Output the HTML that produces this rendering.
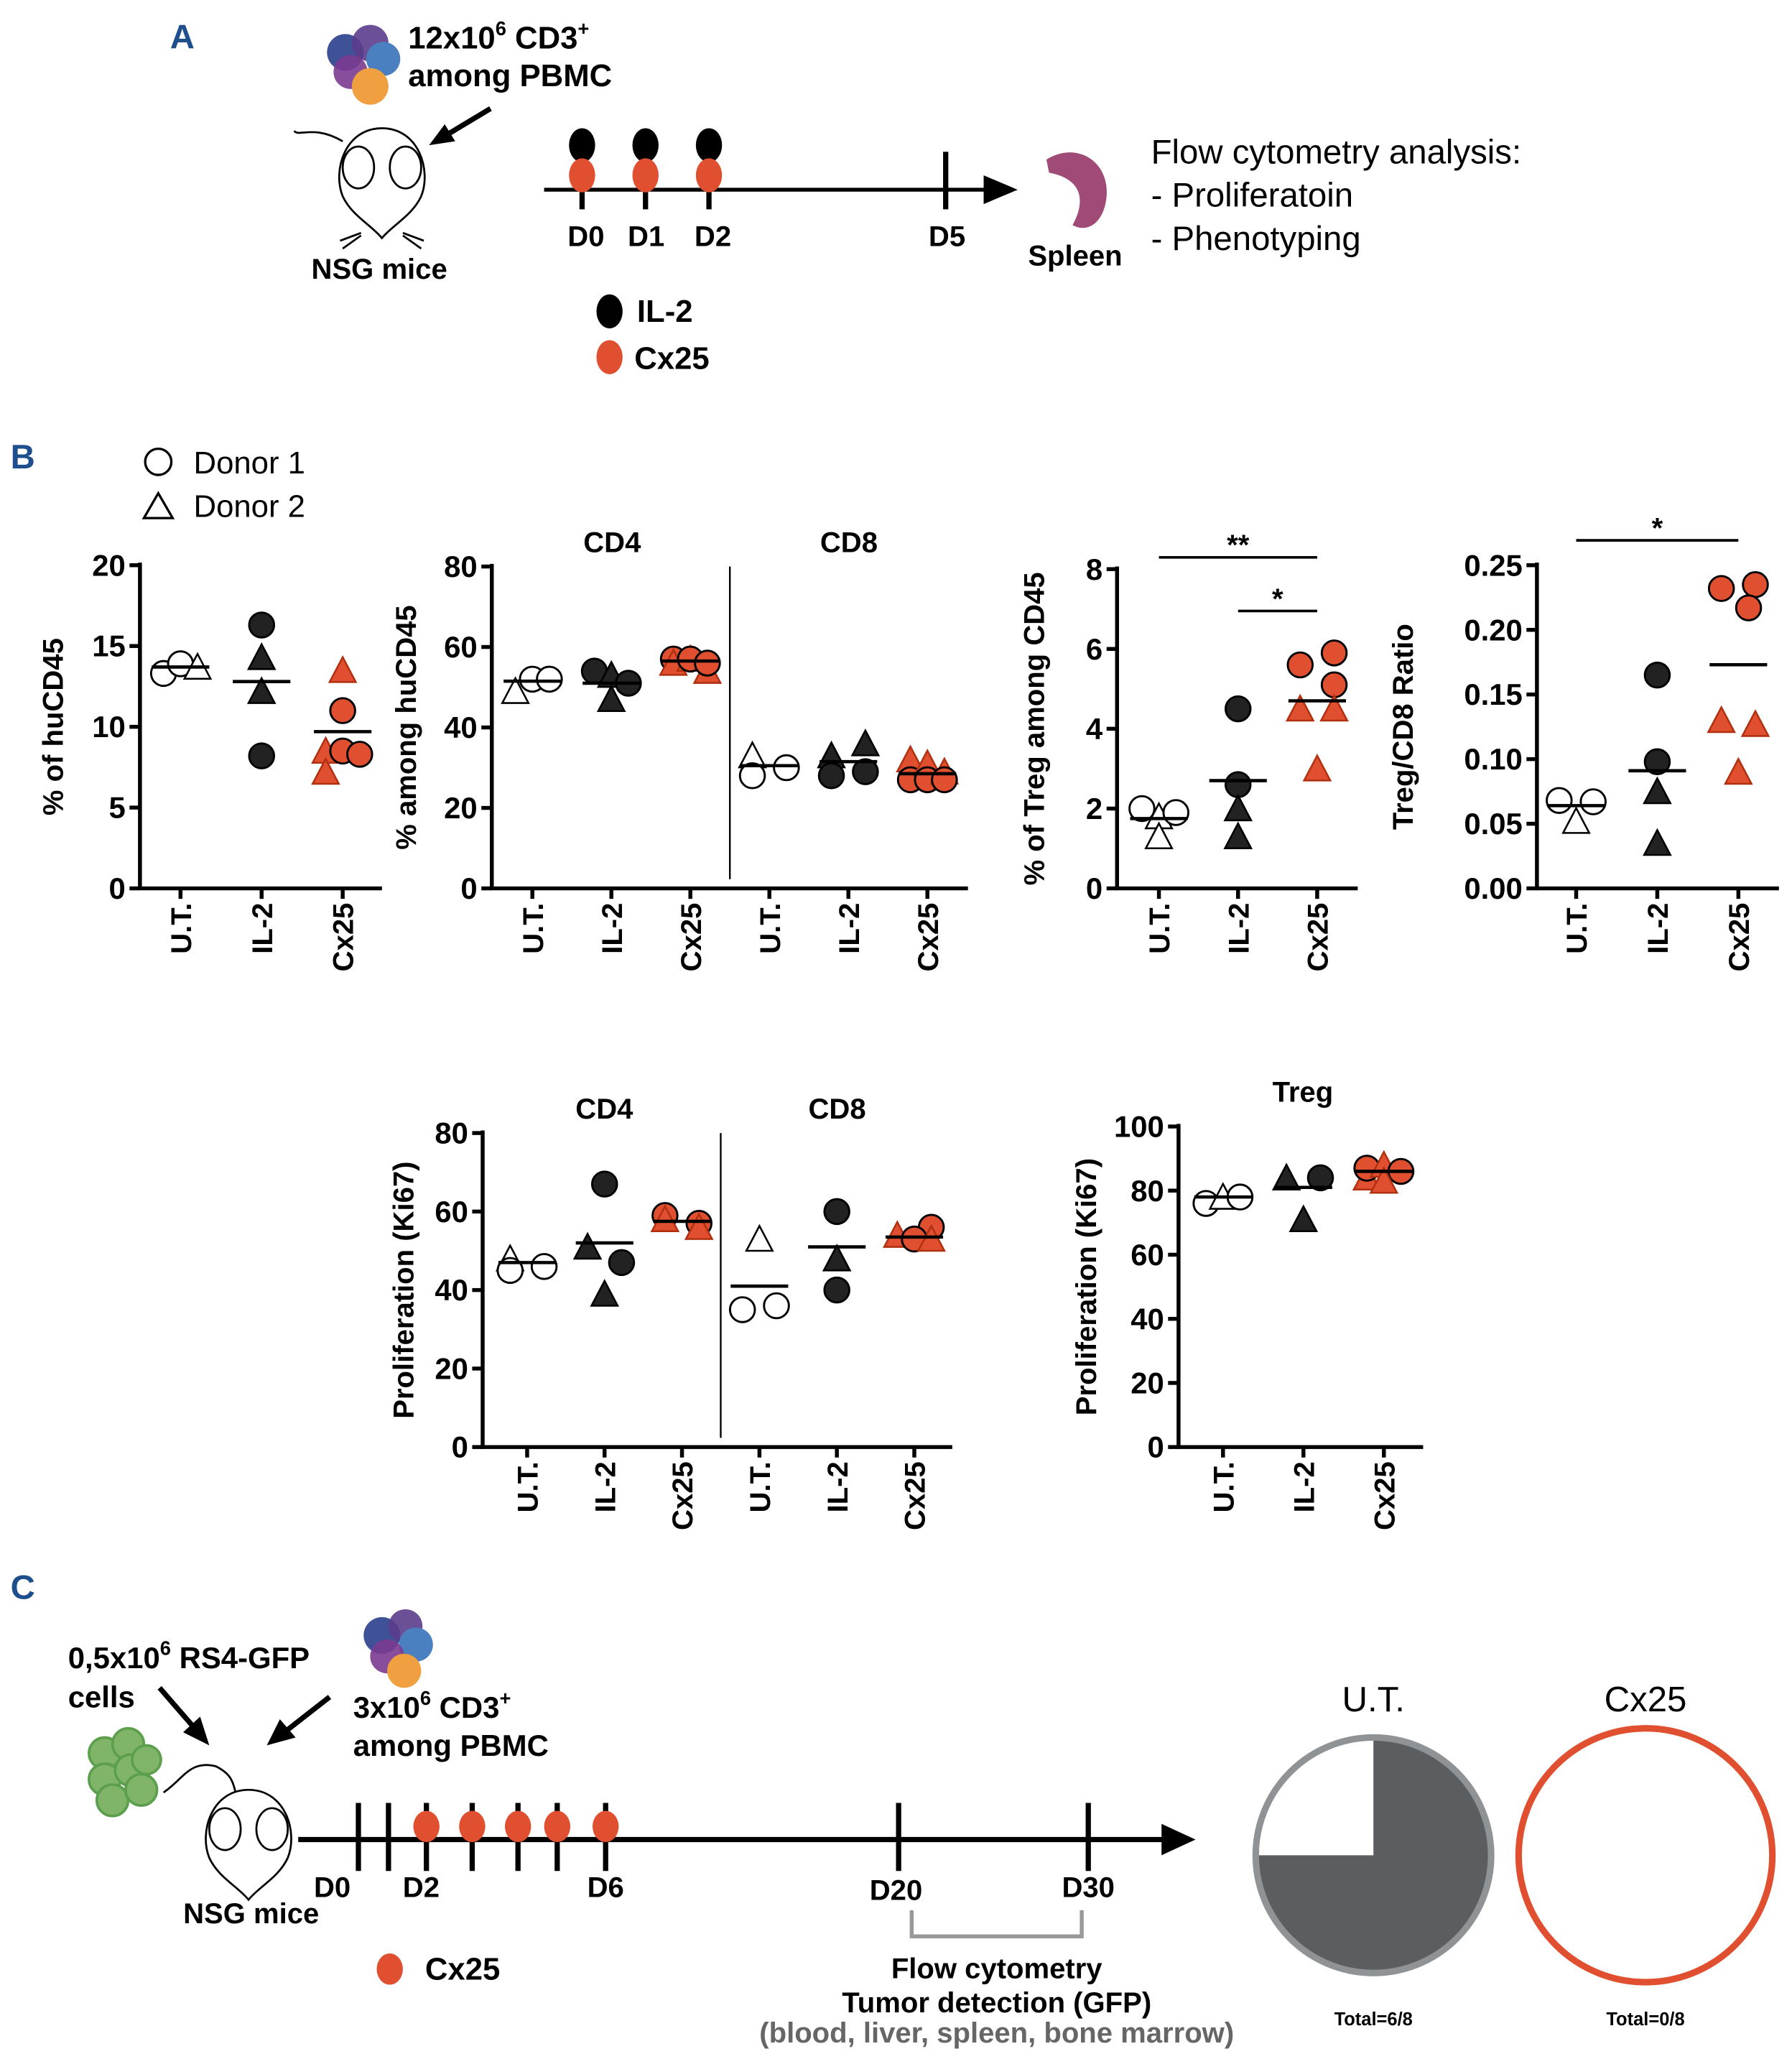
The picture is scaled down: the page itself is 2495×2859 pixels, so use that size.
<!DOCTYPE html>
<html><head><meta charset="utf-8">
<style>
html,body{margin:0;padding:0;background:#fff}
svg{display:block}
text{font-family:"Liberation Sans Narrow","Liberation Sans",sans-serif}
.b{font-weight:bold}
.ax{stroke:#000;stroke-width:3;fill:none}
</style></head>
<body>
<svg id="fig" xmlns="http://www.w3.org/2000/svg" width="2495" height="2859" viewBox="0 0 1370 1569.9" preserveAspectRatio="none">
<g>
<text x="130" y="37" font-size="26" class="b" fill="#1f4e8c" style="font-family:'Liberation Sans',sans-serif">A</text>
<g>
<circle cx="264" cy="40" r="14" fill="#2b3f8c" opacity="0.9"/><circle cx="283" cy="33" r="14" fill="#5b3c8c" opacity="0.9"/><circle cx="293" cy="45" r="13" fill="#4a7fc0"/><circle cx="268" cy="55" r="13" fill="#7b3b90" opacity="0.9"/><circle cx="283" cy="66" r="14" fill="#f0a040"/>
</g>
<text x="312" y="37" font-size="24" class="b">12x10<tspan font-size="15" dy="-10">6</tspan><tspan dy="10"> CD3</tspan><tspan font-size="15" dy="-10">+</tspan></text>
<text x="312" y="66" font-size="24" class="b">among PBMC</text>
<line x1="375" y1="83" x2="340" y2="104" stroke="#000" stroke-width="4"/><polygon points="328,111 340,95 348,108" fill="#000"/>
<g fill="#fff" stroke="#000" stroke-width="1.5">
<path d="M262,108 C240,95 228,105 225,100" fill="none"/>
<path d="M292,98 C320,98 330,130 322,150 C315,165 300,172 292,182 C284,172 269,165 262,150 C254,130 264,98 292,98 Z"/>
<ellipse cx="274" cy="128" rx="12" ry="16"/><ellipse cx="310" cy="128" rx="12" ry="16"/>
<path d="M276,178 L260,184 M276,180 L262,190 M308,178 L324,184 M308,180 L322,190" fill="none"/>
</g>
<text x="290" y="213" font-size="22" class="b" text-anchor="middle">NSG mice</text>
<g>
<line x1="416" y1="145" x2="755" y2="145" stroke="#000" stroke-width="3"/><polygon points="752,134 778,145 752,156" fill="#000"/>
<line x1="723" y1="116" x2="723" y2="160" stroke="#000" stroke-width="4"/>
<g id="doses"></g>
<text x="448" y="188" font-size="22" class="b" text-anchor="middle">D0</text>
<text x="494" y="188" font-size="22" class="b" text-anchor="middle">D1</text>
<text x="545" y="188" font-size="22" class="b" text-anchor="middle">D2</text>
<text x="724" y="188" font-size="22" class="b" text-anchor="middle">D5</text>
</g>
<path d="M800,122 C822,108 848,122 846,150 C844,172 830,178 820,172 C832,150 824,136 802,132 Z" fill="#a04a78"/>
<text x="822" y="203" font-size="22" class="b" text-anchor="middle">Spleen</text>
<text x="880" y="125" font-size="26" style="font-family:'Liberation Sans',sans-serif">Flow cytometry analysis:</text>
<text x="880" y="158" font-size="26" style="font-family:'Liberation Sans',sans-serif">- Proliferatoin</text>
<text x="880" y="191" font-size="26" style="font-family:'Liberation Sans',sans-serif">- Phenotyping</text>
<ellipse cx="466" cy="238" rx="10" ry="13" fill="#000"/>
<text x="487" y="246" font-size="24" class="b">IL-2</text>
<ellipse cx="466" cy="273" rx="10" ry="13" fill="#e05030"/>
<text x="485" y="282" font-size="24" class="b">Cx25</text>
</g>
<text x="8" y="358" font-size="26" class="b" fill="#1f4e8c" style="font-family:'Liberation Sans',sans-serif">B</text>
<g>
<circle cx="121" cy="353" r="10" fill="#fff" stroke="#000" stroke-width="1.8"/>
<text x="148" y="362" font-size="24" style="font-family:'Liberation Sans',sans-serif">Donor 1</text>
<polygon points="110,396 121,377 132,396" fill="#fff" stroke="#000" stroke-width="1.8"/>
<text x="148" y="395" font-size="24" style="font-family:'Liberation Sans',sans-serif">Donor 2</text>
</g>
<g id="charts"></g>
<g>
<text x="8" y="1222" font-size="26" class="b" fill="#1f4e8c" style="font-family:'Liberation Sans',sans-serif">C</text>
<text x="52" y="1275" font-size="23" class="b">0,5x10<tspan font-size="15" dy="-10">6</tspan><tspan dy="10"> RS4-GFP</tspan></text>
<text x="52" y="1305" font-size="23" class="b">cells</text>
<line x1="122" y1="1290" x2="148" y2="1320" stroke="#000" stroke-width="4"/><polygon points="160,1334 140,1324 153,1312" fill="#000"/>
<line x1="252" y1="1297" x2="220" y2="1322" stroke="#000" stroke-width="4"/><polygon points="204,1334 214,1314 226,1328" fill="#000"/>
<g>
<circle cx="292" cy="1250" r="14" fill="#2b3f8c" opacity="0.9"/><circle cx="310" cy="1243" r="13" fill="#5b3c8c" opacity="0.9"/><circle cx="318" cy="1257" r="13" fill="#4a7fc0"/><circle cx="296" cy="1266" r="13" fill="#7b3b90" opacity="0.9"/><circle cx="309" cy="1277" r="13" fill="#f0a040"/>
</g>
<text x="270" y="1313" font-size="23" class="b">3x10<tspan font-size="15" dy="-10">6</tspan><tspan dy="10"> CD3</tspan><tspan font-size="15" dy="-10">+</tspan></text>
<text x="270" y="1342" font-size="23" class="b">among PBMC</text>
<g fill="#6aa84f" stroke="#3f8f2f" stroke-width="2" opacity="0.85">
<circle cx="80" cy="1340" r="12"/><circle cx="98" cy="1333" r="12"/><circle cx="80" cy="1360" r="12"/><circle cx="100" cy="1353" r="12"/><circle cx="112" cy="1345" r="11"/><circle cx="86" cy="1376" r="12"/><circle cx="108" cy="1368" r="12"/>
</g>
<g fill="#fff" stroke="#000" stroke-width="1.5">
<path d="M125,1370 C140,1360 145,1345 165,1350 C175,1355 178,1360 180,1370" fill="none"/>
<path d="M190,1368 C218,1368 228,1400 220,1420 C213,1435 198,1442 190,1452 C182,1442 167,1435 160,1420 C152,1400 162,1368 190,1368 Z"/>
<ellipse cx="172" cy="1398" rx="12" ry="16"/><ellipse cx="208" cy="1398" rx="12" ry="16"/>
</g>
<text x="192" y="1470" font-size="22" class="b" text-anchor="middle">NSG mice</text>
<line x1="228" y1="1406" x2="890" y2="1406" stroke="#000" stroke-width="4"/><polygon points="888,1394 914,1406 888,1418" fill="#000"/>
<g id="tl-c"></g>
<text x="254" y="1450" font-size="22" class="b" text-anchor="middle">D0</text>
<text x="322" y="1450" font-size="22" class="b" text-anchor="middle">D2</text>
<text x="463" y="1450" font-size="22" class="b" text-anchor="middle">D6</text>
<text x="685" y="1452" font-size="22" class="b" text-anchor="middle">D20</text>
<text x="832" y="1450" font-size="22" class="b" text-anchor="middle">D30</text>
<path d="M697,1460 L697,1480 L827,1480 L827,1460" fill="none" stroke="#999" stroke-width="3"/>
<ellipse cx="298" cy="1505" rx="10" ry="12" fill="#e05030"/>
<text x="325" y="1513" font-size="24" class="b">Cx25</text>
<text x="762" y="1512" font-size="22" class="b" text-anchor="middle">Flow cytometry</text>
<text x="762" y="1538" font-size="22" class="b" text-anchor="middle">Tumor detection (GFP)</text>
<text x="762" y="1561" font-size="22" class="b" text-anchor="middle" fill="#666">(blood, liver, spleen, bone marrow)</text>
<g id="pies"></g>
</g>
</svg>
<script>
const NS="http://www.w3.org/2000/svg";
function mk(p,t,a){const e=document.createElementNS(NS,t);for(const k in a)e.setAttribute(k,a[k]);p.appendChild(e);return e;}
const doseDaysA=[0,1,2];
const dg=document.getElementById('doses');
doseDaysA.forEach(d=>{const x=445+d*48.5;
 mk(dg,'line',{x1:x,y1:120,x2:x,y2:160,stroke:'#000','stroke-width':4});
 const e1=mk(dg,'ellipse',{cx:x,cy:111,rx:10,ry:13,fill:'#000'});
 
 
 const e2=mk(dg,'ellipse',{cx:x,cy:134,rx:10,ry:13,fill:'#e05030'});
 
 
});
const tickDaysC=[0,1,2,3,4,5,6,20,30];
const doseDaysC=[2,3,4,5,6];
const tlPos={0:274,1:297,2:326,3:361,4:396,5:426,6:463,20:687,30:832};
const tg=document.getElementById('tl-c');
tickDaysC.forEach(d=>{mk(tg,'line',{x1:tlPos[d],y1:1378,x2:tlPos[d],y2:1430,stroke:'#000','stroke-width':4});});
doseDaysC.forEach(d=>{const e=mk(tg,'ellipse',{cx:tlPos[d],cy:1396,rx:10,ry:12,fill:'#e05030'});
 
 });
const pieGroups=["U.T.","Cx25"];
const pieDetected=[6,0];
const pieTotal=[8,8];
const pg=document.getElementById('pies');
const pieCfg=[{cx:1050,cy:1418,r:90,stroke:'#909395'},{cx:1258,cy:1418,r:97,stroke:'#e05030'}];
pieGroups.forEach((g,i)=>{const c=pieCfg[i];
 const t=mk(pg,'text',{x:c.cx,y:1308,'font-size':27,'text-anchor':'middle',style:"font-family:'Liberation Sans',sans-serif"});t.textContent=g;
 
 
 const f=pieDetected[i]/pieTotal[i];
 if(f>0){const a0=-Math.PI/2,a1=a0+f*2*Math.PI;
  const p=mk(pg,'path',{d:`M${c.cx},${c.cy} L${c.cx+c.r*Math.cos(a0)},${c.cy+c.r*Math.sin(a0)} A${c.r},${c.r} 0 ${f>0.5?1:0} 1 ${c.cx+c.r*Math.cos(a1)},${c.cy+c.r*Math.sin(a1)} Z`,fill:'#5a5e61'});
  
  }
 const o=mk(pg,'circle',{cx:c.cx,cy:c.cy,r:c.r,fill:'none',stroke:c.stroke,'stroke-width':5});
 
 
 const tt=mk(pg,'text',{x:c.cx,y:1548,'font-size':14,'text-anchor':'middle','font-weight':'bold'});tt.textContent='Total='+pieDetected[i]+'/'+pieTotal[i];
 
 
});

const cats3=["U.T.","IL-2","Cx25"];
const cats6=["U.T.","IL-2","Cx25","U.T.","IL-2","Cx25"];
const huValues=[[13.3,13.9,13.7],[16.3,14.3,12.2,8.2],[13.5,11.0,8.5,8.5,8.3,7.2]];
const huShapes=[["c","c","t"],["c","t","t","c"],["t","c","t","c","c","t"]];
const huSlots=[[-1,0,1],[0,0,0,0],[0,0,-1,0,1,-1]];
const huMeans=[13.7,12.8,9.7];
const cdValues=[[49,52,52],[54,53,47,51],[57,56,57,57,54,56],[33,28,30],[33,28,36,29],[32,27,31,27,29,27]];
const cdShapes=[["t","c","c"],["c","t","t","c"],["c","t","t","c","t","c"],["t","c","c"],["t","c","t","c"],["t","c","t","c","t","c"]];
const cdSlots=[[-1,0,1],[-1,0,0,1],[-1,-1,0,0,1,1],[-1,-1,1],[-1,-1,1,1],[-1,-1,0,0,1,1]];
const cdMeans=[51.5,51,56.5,30.5,31.5,28.5];
const tregValues=[[2.0,1.8,1.9,1.3],[4.5,2.6,2.0,1.3],[5.6,5.9,5.1,4.5,4.5,3.0]];
const tregShapes=[["c","t","c","t"],["c","c","t","t"],["c","c","c","t","t","t"]];
const tregSlots=[[-1,0,1,0],[0,0,0,0],[-1,1,1,-1,1,0]];
const tregMeans=[1.75,2.7,4.7];
const ratioValues=[[0.068,0.067,0.052],[0.165,0.098,0.075,0.035],[0.232,0.235,0.217,0.13,0.127,0.09]];
const ratioShapes=[["c","c","t"],["c","c","t","t"],["c","c","c","t","t","t"]];
const ratioSlots=[[-1,1,0],[0,0,0,0],[-1,1,0.6,-1,1,0]];
const ratioMeans=[0.064,0.091,0.173];
const ki67Values=[[48,45,46],[67,51,47,39],[59,58,57,56],[53,35,36],[60,48,40],[56,54,53,53]];
const ki67Shapes=[["t","c","c"],["c","t","c","t"],["c","t","c","t"],["t","c","c"],["c","t","c"],["c","t","c","t"]];
const ki67Slots=[[-1,-1,1],[0,-1,1,0],[-1,-1,1,1],[0,-1,1],[0,0,0],[1,-1,0,1]];
const ki67Means=[47,52,57.5,41,51,53.5];
const tregKiValues=[[76,78,78],[84,84,71],[84,87,88,86,83]];
const tregKiShapes=[["c","t","c"],["t","c","t"],["t","c","t","c","t"]];
const tregKiSlots=[[-1,0,1],[-1,1,0],[-1,-1,0,1,0]];
const tregKiMeans=[78,81,86];
const groupColors=["#fff","#222","#e05030","#fff","#222","#e05030"];

const ticks20=[0,5,10,15,20],ticks80=[0,20,40,60,80],ticks8=[0,2,4,6,8],ticksR=["0.00","0.05","0.10","0.15","0.20","0.25"],ticks100=[0,20,40,60,80,100];

const charts=[
 {name:'huCD45-chart',ax:107,top:432,bot:679,right:292,x0:138,dx:62,max:20,ticks:ticks20,title:'% of huCD45',tx:48,cats:cats3,v:huValues,s:huShapes,sl:huSlots,m:huMeans,lab:690},
 {name:'cd4-cd8-chart',ax:376,top:433,bot:679,right:740,x0:407,dx:60.4,max:80,ticks:ticks80,title:'% among huCD45',tx:318,cats:cats6,v:cdValues,s:cdShapes,sl:cdSlots,m:cdMeans,lab:690,div:558,heads:[['CD4',468],['CD8',649]],headY:422},
 {name:'treg-chart',ax:854,top:435,bot:679,right:1038,x0:886,dx:60.5,max:8,ticks:ticks8,title:'% of Treg among CD45',tx:798,cats:cats3,v:tregValues,s:tregShapes,sl:tregSlots,m:tregMeans,lab:690,sig:[[0,2,426,'**'],[1,2,467,'*']]},
 {name:'treg-cd8-ratio-chart',ax:1175,top:432,bot:679,right:1360,x0:1205,dx:62,max:0.25,ticks:ticksR,title:'Treg/CD8 Ratio',tx:1080,cats:cats3,v:ratioValues,s:ratioShapes,sl:ratioSlots,m:ratioMeans,lab:690,sig:[[0,2,413,'*']]},
 {name:'ki67-cd4-cd8-chart',ax:369,top:866,bot:1106,right:728,x0:403,dx:59.2,max:80,ticks:ticks80,title:'Proliferation (Ki67)',tx:316,cats:cats6,v:ki67Values,s:ki67Shapes,sl:ki67Slots,m:ki67Means,lab:1117,div:551,heads:[['CD4',462],['CD8',640]],headY:855},
 {name:'ki67-treg-chart',ax:901,top:861,bot:1106,right:1088,x0:935,dx:61.5,max:100,ticks:ticks100,title:'Proliferation (Ki67)',tx:838,cats:cats3,v:tregKiValues,s:tregKiShapes,sl:tregKiSlots,m:tregKiMeans,lab:1117,heads:[['Treg',996]],headY:842}
];
const root=document.getElementById('charts');
charts.forEach(c=>{
 const g=mk(root,'g',{});
 
 
 const y=v=>c.bot-(v/c.max)*(c.bot-c.top);
 const xc=i=>c.x0+i*c.dx;
 mk(g,'line',{x1:c.ax,y1:c.top-2,x2:c.ax,y2:c.bot,class:'ax'});
 mk(g,'line',{x1:c.ax-1.5,y1:c.bot,x2:c.right,y2:c.bot,class:'ax'});
 c.ticks.forEach(t=>{const yy=y(parseFloat(t));
  mk(g,'line',{x1:c.ax-8,y1:yy,x2:c.ax,y2:yy,class:'ax'});
  const tx=mk(g,'text',{x:c.ax-11,y:yy+8,'font-size':23,'text-anchor':'end','font-weight':'bold'});tx.textContent=t;
  
  });
 const yt=mk(g,'text',{x:0,y:0,'font-size':22,'text-anchor':'middle','font-weight':'bold',transform:`translate(${c.tx},${(c.top+c.bot)/2}) rotate(-90)`,style:"font-family:'Liberation Sans',sans-serif"});
 yt.textContent=c.title;
 
 
 c.cats.forEach((k,i)=>{const x=xc(i);
  mk(g,'line',{x1:x,y1:c.bot,x2:x,y2:c.bot+8,class:'ax'});
  const t=mk(g,'text',{x:0,y:0,'font-size':22,'text-anchor':'end','font-weight':'bold',transform:`translate(${x+8},${c.lab}) rotate(-90)`,style:"font-family:'Liberation Sans',sans-serif"});
  t.textContent=k;
  
  });
 if(c.div)mk(g,'line',{x1:c.div,y1:c.top,x2:c.div,y2:c.bot-7,stroke:'#000','stroke-width':1.3});
 if(c.heads)c.heads.forEach(h=>{const t=mk(g,'text',{x:h[1],y:c.headY,'font-size':22,'text-anchor':'middle','font-weight':'bold',style:"font-family:'Liberation Sans',sans-serif"});t.textContent=h[0];
  
  });
 c.v.forEach((arr,i)=>{arr.forEach((v,j)=>{
  const x=xc(i)+c.sl[i][j]*13,yy=y(v),col=groupColors[i];
  let m;
  if(c.s[i][j]==='c')m=mk(g,'circle',{cx:x,cy:yy,r:9.5,fill:col,stroke:'#000','stroke-width':1.6});
  else m=mk(g,'polygon',{points:`${x-10},${yy+9} ${x},${yy-10} ${x+10},${yy+9}`,fill:col,stroke:col==='#e05030'?'#b03010':'#000','stroke-width':1.4});
  
  
 });
  const ml=mk(g,'line',{x1:xc(i)-22,y1:y(c.m[i]),x2:xc(i)+22,y2:y(c.m[i]),stroke:'#000','stroke-width':2.5});
  
  
 });
 if(c.sig)c.sig.forEach(s=>{
  const l=mk(g,'line',{x1:xc(s[0]),y1:s[2],x2:xc(s[1]),y2:s[2],stroke:'#000','stroke-width':2});
  
  
  const t=mk(g,'text',{x:(xc(s[0])+xc(s[1]))/2,y:s[2]-2,'font-size':22,'text-anchor':'middle','font-weight':'bold'});t.textContent=s[3];
  
  });
});
</script>
</body></html>
